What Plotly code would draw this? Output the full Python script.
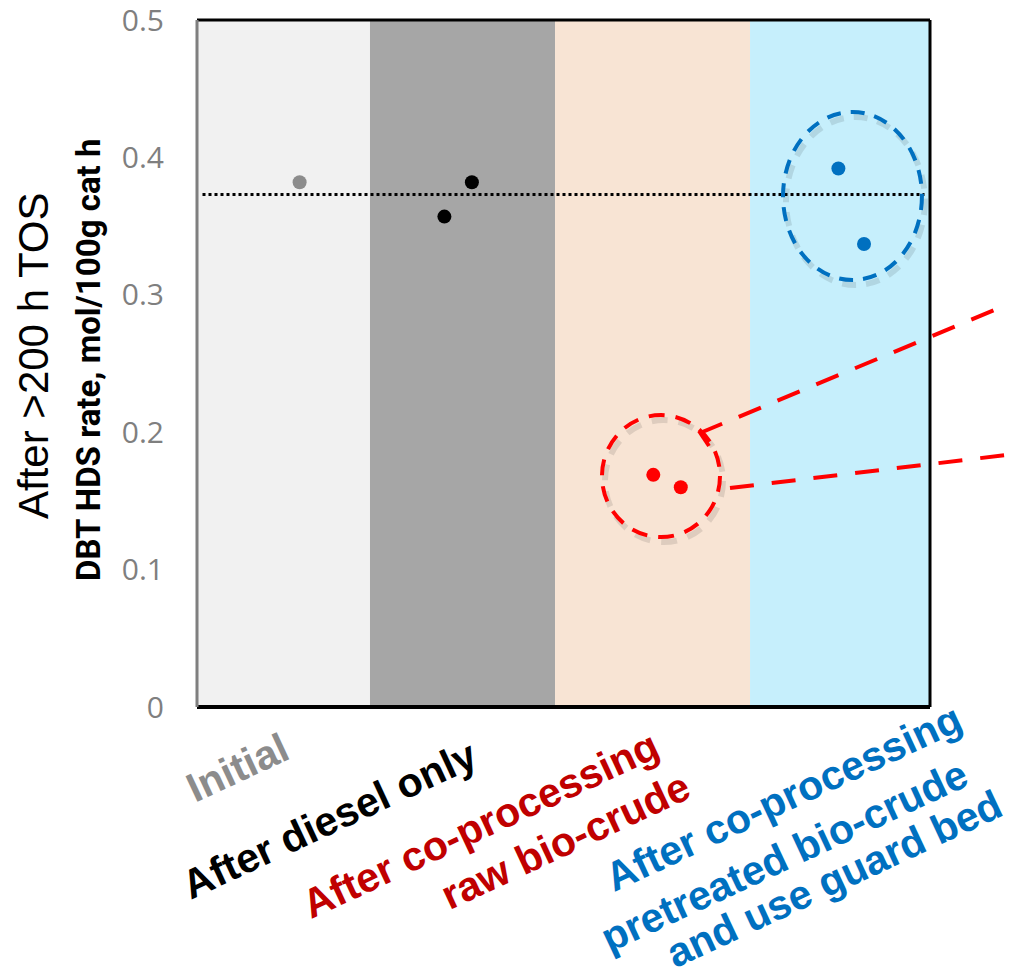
import plotly.graph_objects as go

# page / plot-area geometry in pixels (page has an 8px body margin)
W, H = 1014, 974
PAGE_MARGIN = 8
LEFT, RIGHT, TOP, BOTTOM = 197, 930, 20, 707

# data
band_edges = [0, 0.944, 1.954, 3.018, 4.0]
band_colors = ["#F1F1F1", "#A6A6A6", "#F8E4D4", "#C6EFFC"]

initial_x = [0.56]
initial_rate = [0.382]
diesel_x = [1.35, 1.50]
diesel_rate = [0.357, 0.382]
raw_x = [2.49, 2.64]
raw_rate = [0.169, 0.160]
pretreated_x = [3.50, 3.64]
pretreated_rate = [0.392, 0.337]
reference_rate = 0.373

y_ticks = [0, 0.1, 0.2, 0.3, 0.4, 0.5]
y_ticktext = ["0", "0.1", "0.2", "0.3", "0.4", "0.5"]

GRAY = "#8C8C8C"
RED = "#C00000"
BRIGHT_RED = "#FF0000"
BLUE = "#0070C0"


def px(x, y):
    """page pixel position -> paper coords"""
    return (x - LEFT) / (RIGHT - LEFT), (BOTTOM - y) / (BOTTOM - TOP)


X_PER_PX = 4.0 / (RIGHT - LEFT)
Y_PER_PX = 0.5 / (BOTTOM - TOP)

fig = go.Figure()

for xs, ys, color in [
    (initial_x, initial_rate, GRAY),
    (diesel_x, diesel_rate, "black"),
    (raw_x, raw_rate, BRIGHT_RED),
    (pretreated_x, pretreated_rate, BLUE),
]:
    fig.add_trace(
        go.Scatter(
            x=xs,
            y=ys,
            mode="markers",
            marker=dict(size=14, color=color),
            showlegend=False,
            hoverinfo="y",
        )
    )

shapes = []

# background bands
for i, color in enumerate(band_colors):
    shapes.append(
        dict(
            type="rect", xref="x", yref="paper",
            x0=band_edges[i], x1=band_edges[i + 1], y0=0, y1=1,
            fillcolor=color, line_width=0, layer="below",
        )
    )

# dotted reference line
shapes.append(
    dict(
        type="line", xref="x", yref="y",
        x0=0.03, x1=3.97, y0=reference_rate, y1=reference_rate,
        line=dict(color="black", width=3, dash="dot"),
    )
)

# dashed ellipses (with soft shadow)
ellipses = [
    (2.210, 2.854, 0.1237, 0.2125, BRIGHT_RED, "16px,11px"),
    (3.198, 3.956, 0.3108, 0.4331, BLUE, "14px,10px"),
]
for x0, x1, y0, y1, color, dash in ellipses:
    sx, sy = 3 * X_PER_PX, -5 * Y_PER_PX
    shapes.append(
        dict(
            type="circle", xref="x", yref="y",
            x0=x0 + sx, x1=x1 + sx, y0=y0 + sy, y1=y1 + sy,
            line=dict(color="rgba(0,0,0,0.10)", width=6, dash=dash),
        )
    )
    shapes.append(
        dict(
            type="circle", xref="x", yref="y",
            x0=x0, x1=x1, y0=y0, y1=y1,
            line=dict(color=color, width=4, dash=dash),
        )
    )

# red dashed callout lines leaving the plot
for (ax, ay), (bx, by) in [((700, 433), (1040, 291)), ((730, 488), (1040, 451))]:
    a, b = px(ax, ay), px(bx, by)
    shapes.append(
        dict(
            type="line", xref="paper", yref="paper",
            x0=a[0], y0=a[1], x1=b[0], y1=b[1],
            line=dict(color=BRIGHT_RED, width=4, dash="24px,18px"),
        )
    )
a, b = px(699, 431), px(709, 446)
shapes.append(
    dict(
        type="line", xref="paper", yref="paper",
        x0=a[0], y0=a[1], x1=b[0], y1=b[1],
        line=dict(color=BRIGHT_RED, width=4),
    )
)

# plot frame
shapes += [
    dict(type="line", xref="paper", yref="paper", x0=0, x1=1, y0=1, y1=1,
         line=dict(color="black", width=3)),
    dict(type="line", xref="paper", yref="paper", x0=1, x1=1, y0=0, y1=1,
         line=dict(color="black", width=3)),
    dict(type="line", xref="paper", yref="paper", x0=0, x1=1, y0=0, y1=0,
         line=dict(color="black", width=4)),
    dict(type="line", xref="paper", yref="paper", x0=0, x1=0, y0=0, y1=1,
         line=dict(color="#7F7F7F", width=3)),
]

# category labels (one annotation per line)
label_font = "Liberation Sans, Arial, sans-serif"
label_lines = [
    ("<b>Initial</b>", (237, 768), GRAY),
    ("<b>After diesel only</b>", (329, 820), "black"),
    ("<b>After co-processing</b>", (480, 825), RED),
    ("<b>raw bio-crude</b>", (565, 841), RED),
    ("<b>After co-processing</b>", (783, 798), BLUE),
    ("<b>pretreated bio-crude</b>", (784, 856), BLUE),
    ("<b>and use guard bed</b>", (834, 879), BLUE),
]
annotations = []
for text, (lx, ly), color in label_lines:
    x, y = px(lx, ly)
    annotations.append(
        dict(
            text=text, x=x, y=y, xref="paper", yref="paper",
            xanchor="center", yanchor="middle", textangle=-25,
            showarrow=False,
            font=dict(family=label_font, size=41, color=color),
        )
    )

# y-axis titles
x, y = px(33, 356)
annotations.append(
    dict(
        text="After >200 h TOS", x=x, y=y, xref="paper", yref="paper",
        xanchor="center", yanchor="middle", textangle=-90, showarrow=False,
        font=dict(family=label_font, size=42, color="black"),
    )
)
x, y = px(88, 360)
annotations.append(
    dict(
        text="<b>DBT HDS rate, mol/100g cat h</b>", x=x, y=y,
        xref="paper", yref="paper",
        xanchor="center", yanchor="middle", textangle=-90, showarrow=False,
        font=dict(family="Roboto, sans-serif", size=33, color="black"),
    )
)

fig.update_layout(
    width=W - PAGE_MARGIN,
    height=H - PAGE_MARGIN,
    margin=dict(
        l=LEFT - PAGE_MARGIN, r=W - RIGHT, t=TOP - PAGE_MARGIN, b=H - BOTTOM
    ),
    paper_bgcolor="white",
    plot_bgcolor="white",
    shapes=shapes,
    annotations=annotations,
    xaxis=dict(
        range=[0, 4], showticklabels=False, showgrid=False,
        zeroline=False, showline=False, fixedrange=True,
    ),
    yaxis=dict(
        range=[0, 0.5001], tickvals=y_ticks, ticktext=y_ticktext,
        showgrid=False, zeroline=False, showline=False, ticks="",
        ticklabelstandoff=32, ticklabeloverflow="allow", automargin=False,
        tickfont=dict(family="Open Sans, sans-serif", size=30, color="#7F7F7F"),
    ),
)

fig.write_html("out.html")
